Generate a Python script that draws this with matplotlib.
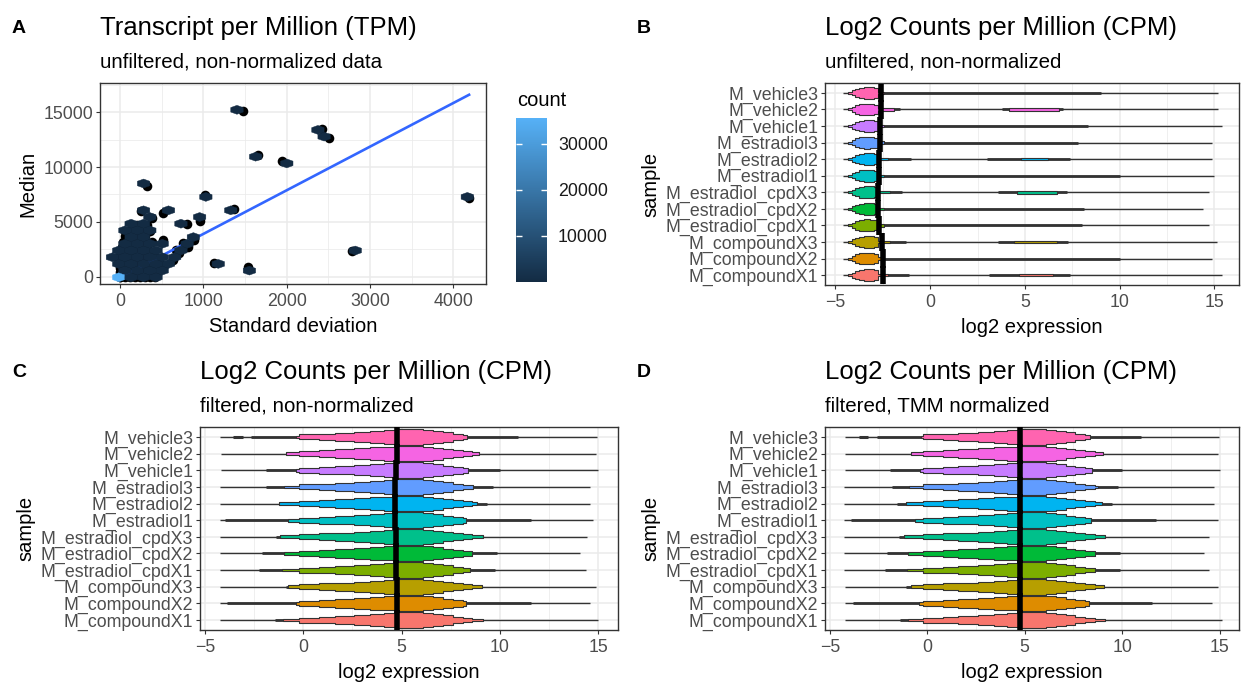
import matplotlib
matplotlib.use("Agg")
import matplotlib.pyplot as plt
import numpy as np
from matplotlib.colors import LinearSegmentedColormap, Normalize

plt.rcParams['font.family'] = ['Liberation Sans', 'DejaVu Sans']

W, H = 1241, 685

# ---------------- panel A data (TPM: sd vs median) ----------------
origin_sd = [0]
origin_median = [0]
origin_count = [35600]

cluster_sd = [0, 60, 120, 180, 240, 300, 360, 420,
              0, 60, 120, 180, 240, 300, 360, 440,
              0, 60, 120, 180, 240, 300, 380, 470,
              0, 60, 120, 180, 240, 300, 360, 420,
              -20, 60, 120, 180, 240, 300, 360, 460,
              0, 60, 120, 180, 240, 300, 400,
              20, 80, 140, 200, 260, 330,
              40, 100, 160, 220, 280, 380,
              60, 120, 180, 240, 300,
              60, 120, 180, 240, 300, 360,
              140, 200, 260, 320]
cluster_median = [0, 0, 0, 0, 0, 0, 0, 0,
                  400, 400, 400, 400, 400, 400, 400, 400,
                  800, 800, 800, 800, 800, 800, 800, 800,
                  1200, 1200, 1200, 1200, 1200, 1200, 1200, 1200,
                  1700, 1700, 1700, 1700, 1700, 1700, 1700, 1700,
                  2200, 2200, 2200, 2200, 2200, 2200, 2200,
                  2700, 2700, 2700, 2700, 2700, 2700,
                  3200, 3200, 3200, 3200, 3200, 3200,
                  3700, 3700, 3700, 3700, 3700,
                  4200, 4200, 4200, 4200, 4200, 4200,
                  4700, 4700, 4700, 4700]

outlier_sd = [1473, 2421, 2505, 1653, 1945, 324, 1024, 4193, 1365, 252,
              960, 800, 516, 384, 2789, 1128, 1537, 892, 632, 712, 752,
              512, 532, 672, 818]
outlier_median = [15120, 13450, 12625, 11100, 10557, 8303, 7427, 7153, 6150, 6022,
                  5110, 4808, 5840, 5383, 2372, 1277, 912, 3348, 1520, 2130, 3050,
                  3350, 1070, 2436, 2700]

fit_sd = [0, 4190]
fit_median = [-80, 16600]

# ---------------- violin data (log2 CPM) ----------------
samples = ['M_compoundX1', 'M_compoundX2', 'M_compoundX3',
           'M_estradiol_cpdX1', 'M_estradiol_cpdX2', 'M_estradiol_cpdX3',
           'M_estradiol1', 'M_estradiol2', 'M_estradiol3',
           'M_vehicle1', 'M_vehicle2', 'M_vehicle3']
colors = ['#F8766D', '#DE8C00', '#B79F00', '#7CAE00', '#00BA38', '#00C08B',
          '#00BFC4', '#00B4F0', '#619CFF', '#C77CFF', '#F564E3', '#FF64B0']

# B: unfiltered
b_lo = [-4.6] * 12
b_hi = [15.4, 14.9, 15.15, 14.7, 14.4, 14.7, 15.0, 14.85, 14.85, 15.4, 15.2, 15.2]
b_med = [-2.5, -2.5, -2.55, -2.7, -2.75, -2.75, -2.7, -2.7, -2.65, -2.65, -2.62, -2.62]
b_thick_hi = [-1.1, 10.0, -1.3, 8.0, 8.1, -1.5, 10.0, -1.0, 7.8, 8.35, -1.6, 9.0]
b_body_end = [-2.2, -2.45, -2.1, -2.45, -2.45, -2.1, -2.45, -2.2, -2.45, -2.45, -1.9, -2.45]
b_mid_lo = [3.1, None, 3.6, None, None, 3.6, None, 3.0, None, None, 3.8, None]
b_mid_hi = [7.4, None, 7.3, None, None, 7.2, None, 7.4, None, None, 7.0, None]
b_blob_lo = [4.7, None, 4.45, None, None, 4.6, None, 4.8, None, None, 4.15, None]
b_blob_hi = [6.5, None, 6.7, None, None, 6.7, None, 6.2, None, None, 6.8, None]
b_shape_x = [-4.35, -4.15, -3.95, -3.75, -3.5, -3.2, -2.95, -2.75]
b_shape_w = [0.06, 0.15, 0.25, 0.32, 0.36, 0.35, 0.3, 0.07]

# C: filtered, non-normalized
c_lo = [-4.25, -4.25, -4.25, -4.25, -4.25, -4.25, -4.25, -4.25, -4.25, -4.2, -4.2, -4.25]
c_hi = [15.0, 14.58, 14.9, 14.38, 14.07, 14.44, 14.72, 14.58, 14.58, 15.0, 14.9, 14.95]
c_thick_lo = [-1.45, -3.9, -0.86, -2.25, -2.08, -1.4, -4.0, -1.23, -1.87, -1.87, -0.86, -2.64]
c_body_lo = [-1.03, -0.35, -0.77, -1.06, -1.0, -1.2, -0.77, -1.23, -0.98, -0.38, -0.86, -0.35]
c_body_hi = [9.12, 8.27, 9.07, 8.47, 8.57, 9.12, 8.27, 8.85, 8.64, 8.39, 8.95, 8.3]
c_thick_hi = [9.12, 11.56, 9.07, 9.75, 9.83, 9.12, 11.56, 9.32, 9.63, 10.0, 8.95, 10.93]
c_med = [4.78, 4.78, 4.78, 4.72, 4.7, 4.7, 4.68, 4.68, 4.68, 4.7, 4.78, 4.78]
c_blip = (-3.55, -3.05)

# D: filtered, TMM normalized
d_lo = [-4.2, -4.2, -4.2, -4.27, -4.27, -4.27, -4.27, -4.27, -4.27, -4.2, -4.2, -4.2]
d_hi = [15.12, 14.6, 14.9, 14.48, 14.19, 14.48, 14.9, 14.7, 14.7, 15.04, 14.9, 14.95]
d_thick_lo = [-1.41, -3.82, -1.1, -2.16, -2.07, -1.44, -3.9, -1.56, -1.82, -1.9, -0.82, -2.6]
d_body_lo = [-0.99, -0.41, -0.85, -1.05, -0.99, -1.19, -0.63, -1.1, -0.93, -0.37, -0.82, -0.34]
d_body_hi = [9.14, 8.29, 9.09, 8.63, 8.63, 9.14, 8.41, 8.97, 8.75, 8.46, 9.0, 8.36]
d_thick_hi = [9.14, 11.55, 9.09, 9.89, 9.89, 9.14, 11.76, 9.5, 9.8, 10.0, 9.0, 10.96]
d_med = [4.76] * 12
d_blip = (-3.5, -3.06)

# shared stepped outline for the filtered violins (x where width changes, half width)
# None marks the per-sample median
f_shape_x = [-0.2, 0.8, 1.6, 2.6, 3.4, 4.1, None, 6.1, 6.6, 7.1, 7.6, 8.1, 8.6]
f_shape_w = [0.15, 0.2, 0.25, 0.31, 0.37, 0.42, 0.47, 0.42, 0.36, 0.28, 0.2, 0.14, 0.08]

LINE = '#333333'
GRID = '#EBEBEB'
TXT2 = '#4D4D4D'
FS_TICK = 12.8
FS_LAB = 14.5

fig = plt.figure(figsize=(W / 100, H / 100), dpi=100)


def box(l, r, t, b):
    return fig.add_axes([l / W, 1 - b / H, (r - l) / W, (b - t) / H])


def style(ax):
    ax.set_axisbelow(True)
    ax.grid(which='major', color=GRID, lw=1.1)
    ax.grid(which='minor', color=GRID, lw=0.55)
    for sp in ax.spines.values():
        sp.set_color(LINE)
        sp.set_linewidth(1.0)
    ax.tick_params(which='major', length=2.8, width=0.8, color=LINE,
                   labelcolor=TXT2, labelsize=FS_TICK, pad=2.2)
    ax.tick_params(axis='x', which='major', pad=4.0)
    ax.tick_params(which='minor', length=0)


def heading(ax_left, top, tag, tag_x, title, subtitle):
    fig.text(tag_x / W, 1 - (top - 50) / H, tag, fontsize=14, fontweight='bold', va='baseline')
    fig.text(ax_left / W, 1 - (top - 48) / H, title, fontsize=18.5, va='baseline')
    fig.text(ax_left / W, 1 - (top - 15) / H, subtitle, fontsize=14.8, va='baseline')


# ---------------- panel A ----------------
axA = box(100, 486, 83, 284)
style(axA)
cmap = LinearSegmentedColormap.from_list('gg', ['#132B43', '#56B1F7'])
all_sd = origin_sd + cluster_sd + outlier_sd
all_med = origin_median + cluster_median + outlier_median
all_cnt = origin_count + [1] * (len(cluster_sd) + len(outlier_sd))
axA.scatter(all_sd, all_med, s=48, color='black', lw=0, zorder=2)
axA.plot(fit_sd, fit_median, color='#3366FF', lw=1.9, zorder=3)
hb = axA.hexbin(all_sd, all_med, C=all_cnt, reduce_C_function=np.sum,
                gridsize=(31, 15), extent=(-240, 4393, -666, 17673),
                cmap=cmap, norm=Normalize(1, 35600), edgecolors='face',
                linewidths=0.3, zorder=4)
axA.set_xlim(-240, 4393)
axA.set_ylim(-666, 17673)
axA.set_xticks([0, 1000, 2000, 3000, 4000])
axA.set_xticks([500, 1500, 2500, 3500], minor=True)
axA.set_yticks([0, 5000, 10000, 15000], ['0', '5000', '10000', '15000'])
axA.set_yticks([2500, 7500, 12500, 17500], minor=True)
axA.set_xlabel('Standard deviation', fontsize=FS_LAB, labelpad=5)
axA.set_ylabel('Median', fontsize=FS_LAB, labelpad=4)
heading(100, 83, 'A', 12, 'Transcript per Million (TPM)', 'unfiltered, non-normalized data')

cax = box(516, 547, 118, 282)
cb = fig.colorbar(hb, cax=cax, ticks=[10000, 20000, 30000])
cb.outline.set_visible(False)
cax.tick_params(length=0, labelsize=FS_TICK, pad=8, labelcolor='#1A1A1A')
cax.hlines([10000, 20000, 30000], 0, 0.2, color='white', lw=1.0,
           transform=cax.get_yaxis_transform())
cax.hlines([10000, 20000, 30000], 0.8, 1.0, color='white', lw=1.0,
           transform=cax.get_yaxis_transform())
fig.text(517 / W, 1 - 100 / H, 'count', fontsize=FS_LAB, va='center')


def violin_axes(ax, xlim):
    style(ax)
    ax.set_xlim(*xlim)
    ax.set_ylim(0.4, 12.6)
    ax.set_xticks([-5, 0, 5, 10, 15])
    ax.set_xticks([-2.5, 2.5, 7.5, 12.5], minor=True)
    ax.set_yticks(range(1, 13), samples)
    ax.set_xlabel('log2 expression', fontsize=FS_LAB, labelpad=5)
    ax.set_ylabel('sample', fontsize=FS_LAB, labelpad=4)


def body(ax, y, xs, ws, color):
    xs = np.asarray(xs, float)
    ws = np.asarray(ws, float)
    ax.fill_between(xs, y - ws, y + ws, step='post', facecolor=color,
                    edgecolor=LINE, linewidth=0.8, zorder=3)


# ---------------- panel B ----------------
axB = box(825, 1239, 83, 285)
violin_axes(axB, (-5.55, 16.3))
for i in range(12):
    y = i + 1
    axB.hlines(y, b_lo[i], b_hi[i], color=LINE, lw=1.0, zorder=2)
    axB.hlines(y, b_med[i], b_thick_hi[i], color=LINE, lw=2.0, zorder=2)
    if b_mid_lo[i] is not None:
        axB.hlines(y, b_mid_lo[i], b_mid_hi[i], color=LINE, lw=2.0, zorder=2)
        body(axB, y, [b_blob_lo[i], b_blob_hi[i]], [0.08, 0.08], colors[i])
    body(axB, y, b_shape_x + [b_body_end[i]], b_shape_w + [b_shape_w[-1]], colors[i])
    axB.vlines(b_med[i], y - 0.55, y + 0.55, color='black', lw=4.0, zorder=5)
heading(825, 83, 'B', 637, 'Log2 Counts per Million (CPM)', 'unfiltered, non-normalized')


def filtered_panel(ax, lo, hi, thick_lo, body_lo, body_hi, thick_hi, med, blip):
    violin_axes(ax, (-5.25, 16.0))
    for i in range(12):
        y = i + 1
        ax.hlines(y, lo[i], hi[i], color=LINE, lw=1.0, zorder=2)
        ax.hlines(y, thick_lo[i], body_lo[i], color=LINE, lw=2.0, zorder=2)
        ax.hlines(y, body_hi[i], thick_hi[i], color=LINE, lw=2.0, zorder=2)
        if i == 11:
            ax.hlines(y, blip[0], blip[1], color=LINE, lw=2.2, zorder=2)
        xs = [body_lo[i]]
        ws = [0.08]
        for sx, sw in zip(f_shape_x, f_shape_w):
            sx = med[i] if sx is None else sx
            if body_lo[i] + 0.1 < sx < body_hi[i] - 0.1:
                xs.append(sx)
                ws.append(sw)
        xs.append(body_hi[i])
        ws.append(ws[-1])
        body(ax, y, xs, ws, colors[i])
        ax.vlines(med[i], y - 0.6, y + 0.6, color='black', lw=4.0, zorder=5)


# ---------------- panel C ----------------
axC = box(200, 618, 427, 630)
filtered_panel(axC, c_lo, c_hi, c_thick_lo, c_body_lo, c_body_hi, c_thick_hi, c_med, c_blip)
heading(200, 427, 'C', 12, 'Log2 Counts per Million (CPM)', 'filtered, non-normalized')

# ---------------- panel D ----------------
axD = box(825, 1239, 427, 630)
filtered_panel(axD, d_lo, d_hi, d_thick_lo, d_body_lo, d_body_hi, d_thick_hi, d_med, d_blip)
heading(825, 427, 'D', 637, 'Log2 Counts per Million (CPM)', 'filtered, TMM normalized')

fig.savefig('out.png', dpi=100)
